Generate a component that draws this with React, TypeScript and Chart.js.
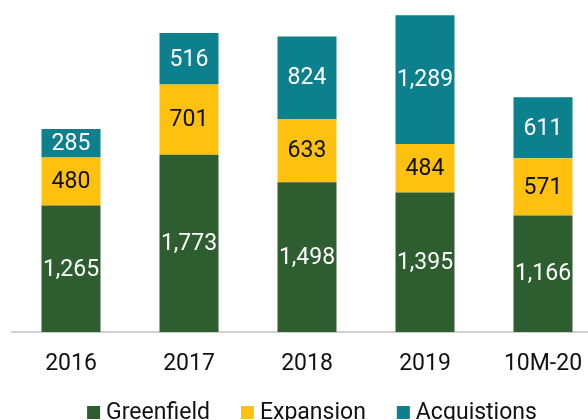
import React, { useEffect, useRef } from "react";
import { Chart, registerables } from "chart.js";

Chart.register(...registerables);

const categories = ["2016", "2017", "2018", "2019", "10M-20"];
const greenfield = [1265, 1773, 1498, 1395, 1166];
const expansion = [480, 701, 633, 484, 571];
const acquisitions = [285, 516, 824, 1289, 611];
const seriesNames = ["Greenfield", "Expansion", "Acquistions"];
const seriesColors = ["#2e5e2f", "#fec10f", "#0c808c"];
const labelColors = ["#ffffff", "#111111", "#ffffff"];

const FONT = "Roboto, 'Noto Sans', sans-serif";
const FS = 23;

const labelsPlugin = {
  id: "segLabels",
  afterDatasetsDraw(chart: any) {
    const ctx = chart.ctx;
    ctx.save();
    ctx.font = `${FS}px ${FONT}`;
    ctx.textAlign = "center";
    ctx.textBaseline = "middle";
    chart.data.datasets.forEach((ds: any, i: number) => {
      const meta = chart.getDatasetMeta(i);
      meta.data.forEach((bar: any, j: number) => {
        const v = ds.data[j];
        const cy = (bar.y + bar.base) / 2;
        ctx.fillStyle = labelColors[i];
        ctx.fillText(v.toLocaleString("en-US"), bar.x, cy + 1);
      });
    });
    ctx.restore();
  },
};

const legendPlugin = {
  id: "customLegend",
  afterDraw(chart: any) {
    const ctx = chart.ctx;
    const area = chart.chartArea;
    ctx.save();
    ctx.font = `${FS}px ${FONT}`;
    ctx.textBaseline = "alphabetic";
    ctx.textAlign = "left";
    const box = 13;
    const gapBoxText = 6;
    const gapItems = 31;
    const widths = seriesNames.map((n) => ctx.measureText(n).width);
    const total =
      widths.reduce((a, w) => a + box + gapBoxText + w, 0) + gapItems * (seriesNames.length - 1);
    let x = (area.left + area.right) / 2 + 5 - total / 2;
    const baseY = area.bottom + 87;
    seriesNames.forEach((n, i) => {
      ctx.fillStyle = seriesColors[i];
      ctx.fillRect(x, area.bottom + 74, box, box);
      x += box + gapBoxText;
      ctx.fillStyle = "#111111";
      ctx.fillText(n, x, baseY);
      x += widths[i] + gapItems;
    });
    ctx.restore();
  },
};

export default function App() {
  const ref = useRef<HTMLCanvasElement>(null);
  useEffect(() => {
    if (!ref.current) return;
    const values = [greenfield, expansion, acquisitions];
    const chart = new Chart(ref.current, {
      type: "bar",
      data: {
        labels: categories,
        datasets: seriesNames.map((name, i) => ({
          label: name,
          data: values[i],
          backgroundColor: seriesColors[i],
          borderWidth: 0,
          barPercentage: 0.5,
          categoryPercentage: 1,
        })),
      },
      options: {
        responsive: false,
        animation: false,
        devicePixelRatio: 1,
        layout: { padding: { left: 12, right: 12, top: 0, bottom: 48 } },
        plugins: {
          legend: { display: false },
          tooltip: { enabled: false },
        },
        scales: {
          x: {
            stacked: true,
            grid: { display: false, drawTicks: false },
            border: { display: true, color: "#d0d0d0", width: 2 },
            ticks: {
              color: "#111111",
              font: { family: FONT, size: FS },
              padding: 18,
            },
            afterFit(scale: any) {
              scale.height = 50;
            },
          },
          y: {
            stacked: true,
            display: false,
            min: 0,
            max: 3320,
          },
        },
      },
      plugins: [labelsPlugin, legendPlugin],
    });
    return () => chart.destroy();
  }, []);
  return (
    <div
      style={{
        position: "absolute",
        left: 0,
        top: 0,
        width: 588,
        height: 420,
        overflow: "hidden",
        background: "#ffffff",
      }}
    >
      <canvas ref={ref} width={614} height={430} style={{ display: "block" }} />
    </div>
  );
}
